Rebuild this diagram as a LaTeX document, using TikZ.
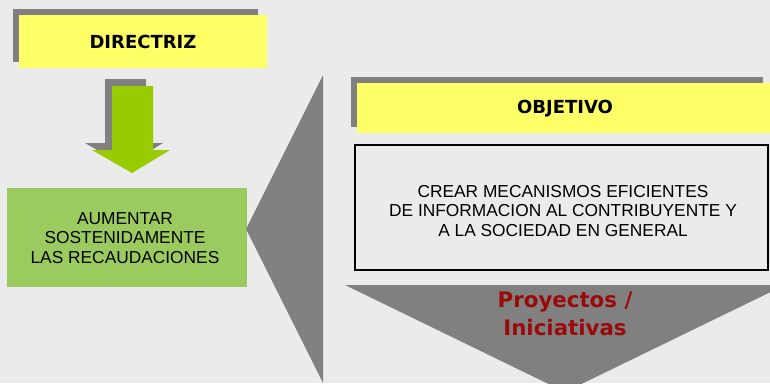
\documentclass[tikz,border=0pt]{standalone}
\usepackage{fontspec}
\setmainfont{Liberation Sans}
\newfontfamily\verdanafont{DejaVu Sans}

\definecolor{bggray}{RGB}{235,235,235}
\definecolor{shadegray}{RGB}{128,128,128}
\definecolor{boxyellow}{RGB}{255,255,102}
\definecolor{arrowgreen}{RGB}{153,204,0}
\definecolor{boxgreen}{RGB}{155,203,95}
\definecolor{darkred}{RGB}{155,10,10}

\tikzset{
  titletext/.style={font=\verdanafont\bfseries\fontsize{13.5}{16}\selectfont, text=black},
  boxtext/.style={font=\fontsize{13}{14.6}\selectfont, align=center, text=black},
  chevtext/.style={font=\verdanafont\bfseries\fontsize{16}{21}\selectfont, align=center, text=darkred}
}

\begin{document}
\begin{tikzpicture}[x=0.75pt,y=-0.75pt]
\useasboundingbox (0,0) rectangle (770,383);
\clip (0,0) rectangle (770,383);
\fill[bggray] (0,0) rectangle (770,383);

% directriz
\fill[shadegray] (13,9) rectangle (258,62);
\fill[boxyellow] (19,15) rectangle (267,68);
\node[titletext] (dir) at (143,42) {DIRECTRIZ};

% flecha verde
\fill[shadegray] (105,79) -- (146,79) -- (146,143) -- (163,143) -- (125,166) -- (85,143) -- (105,143) -- cycle;
\fill[arrowgreen] (112,86) -- (153,86) -- (153,150) -- (170,150) -- (132,173) -- (92,150) -- (112,150) -- cycle;

% aumentar
\fill[boxgreen] (7,188) rectangle (247,287);
\node[boxtext] (aum) at (125,238) {AUMENTAR\\SOSTENIDAMENTE\\LAS RECAUDACIONES};

% triangulo izquierdo
\fill[shadegray] (323,75) -- (246,229) -- (323,383) -- cycle;

% objetivo
\fill[shadegray] (351,77) rectangle (763,127);
\fill[boxyellow] (357,83) rectangle (771,133);
\node[titletext] (obj) at (565,109) {OBJETIVO};

\draw[black, line width=1.5pt] (355,145) rectangle (768,270);
\node[boxtext] (crear) at (563,211) {CREAR MECANISMOS  EFICIENTES\\DE INFORMACION AL CONTRIBUYENTE Y\\A LA SOCIEDAD EN GENERAL};

% proyectos
\fill[shadegray] (345,285) -- (785,285) -- (565,392) -- cycle;
\node[chevtext] (proy) at (565,314) {Proyectos /\\Iniciativas};

\end{tikzpicture}
\end{document}
